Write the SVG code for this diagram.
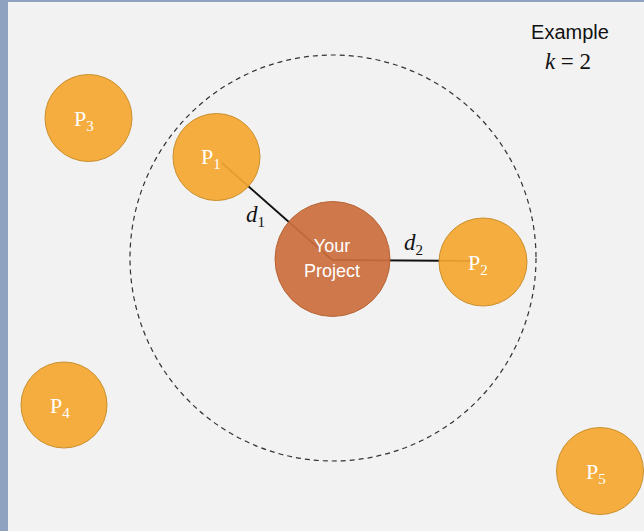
<svg xmlns="http://www.w3.org/2000/svg" width="644" height="531" viewBox="0 0 644 531">
<style>
.pt{fill:#f5a833;stroke:#c98f2c;stroke-width:1;fill-opacity:0.93}
.pl{font-family:"Liberation Serif",serif;font-size:22px;fill:#ffffff}
.sub{font-size:15px}
.math{font-family:"Liberation Serif",serif;font-style:italic;font-size:23px;fill:#111}
.conn{stroke:#111;stroke-width:2;fill:none}
</style>
<rect x="0" y="0" width="644" height="531" fill="#8fa3c0"/>
<rect x="8" y="2" width="636" height="529" fill="#f2f2f2"/>
<g id="boundary"><circle cx="333" cy="258" r="203" fill="none" stroke="#333" stroke-width="1.2" stroke-dasharray="5,4"/></g>
<g id="connectors">
<line class="conn" x1="222" y1="163" x2="332" y2="260"/>
<line class="conn" x1="332" y1="260" x2="478" y2="261"/>
</g>
<g id="labels">
<text class="math" x="246" y="222">d<tspan class="sub" dy="5" font-style="normal">1</tspan></text>
<text class="math" x="404" y="250">d<tspan class="sub" dy="5" font-style="normal">2</tspan></text>
</g>
<g id="P1"><circle class="pt" cx="216.5" cy="157" r="43.5"/><text class="pl" x="201" y="164">P<tspan class="sub" dy="5">1</tspan></text></g>
<g id="P2"><circle class="pt" cx="483" cy="262" r="44"/><text class="pl" x="468" y="270">P<tspan class="sub" dy="5">2</tspan></text></g>
<g id="P3"><circle class="pt" cx="88.5" cy="118" r="43.5"/><text class="pl" x="74" y="126">P<tspan class="sub" dy="5">3</tspan></text></g>
<g id="P4"><circle class="pt" cx="64" cy="405" r="43"/><text class="pl" x="50" y="413">P<tspan class="sub" dy="5">4</tspan></text></g>
<g id="P5"><circle class="pt" cx="600" cy="471" r="43.5"/><text class="pl" x="586" y="479">P<tspan class="sub" dy="5">5</tspan></text></g>
<g id="project"><circle cx="332.5" cy="259" r="57.5" fill="#cb6f3f" fill-opacity="0.93" stroke="#b86535" stroke-width="1"/>
<text x="332" y="252" text-anchor="middle" font-family="'Liberation Sans',sans-serif" font-size="18" fill="#fff">Your</text>
<text x="332" y="277" text-anchor="middle" font-family="'Liberation Sans',sans-serif" font-size="18" fill="#fff">Project</text></g>
<g id="example">
<text x="570" y="39" text-anchor="middle" font-family="'Liberation Sans',sans-serif" font-size="20" fill="#111">Example</text>
<text x="568" y="69" text-anchor="middle" class="math">k <tspan font-style="normal">= 2</tspan></text>
</g>
</svg>
